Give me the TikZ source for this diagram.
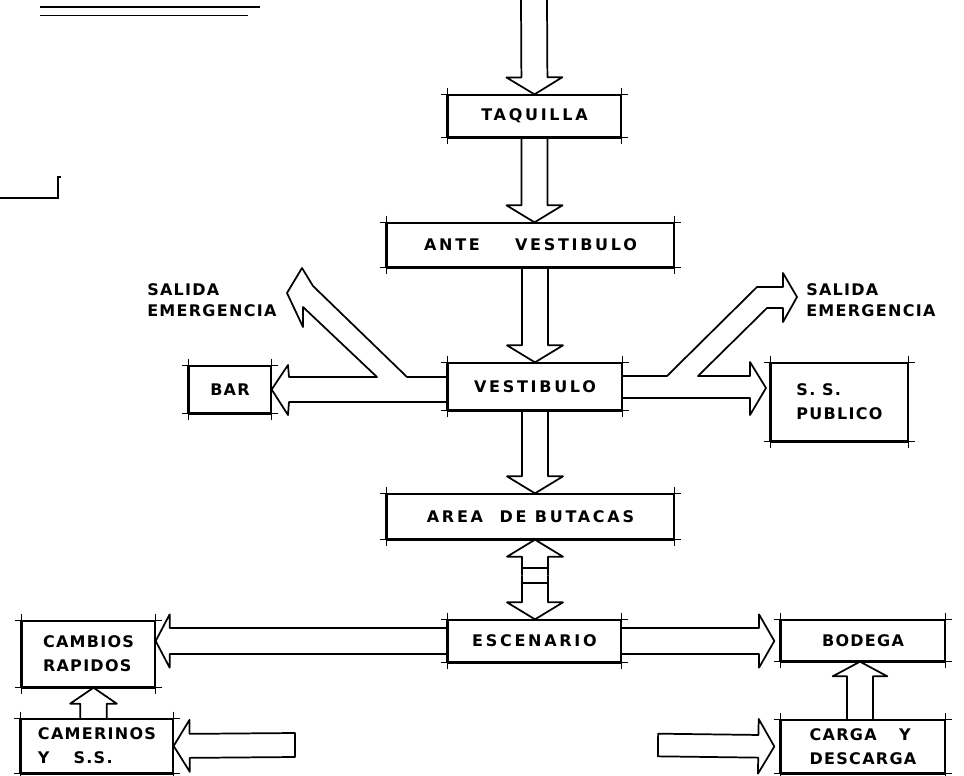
\documentclass[tikz,border=0pt]{standalone}
\usepackage{fontspec}
\usetikzlibrary{calc}
\newfontfamily\bigletters[LetterSpace=17]{DejaVu Sans Bold}
\newfontfamily\smallletters[LetterSpace=8]{DejaVu Sans Bold}
\def\arrowtail{}
\tikzset{
  aw/.store in=\aw, ah/.store in=\ah, al/.store in=\al,
  aw=9.75pt, ah=21pt, al=12.75pt,
  tailcut/.code={\def\arrowtail{-- cycle}},
  hollow/.style={draw,line width=1.3pt,line join=round,to path={
      let \p1=($(\tikztotarget)!\al!(\tikztostart)$) in
      ($(\tikztostart)!\aw!90:(\tikztotarget)$) -- ($(\p1)!\aw!90:(\tikztotarget)$)
      -- ($(\p1)!\ah!90:(\tikztotarget)$) -- (\tikztotarget)
      -- ($(\p1)!\ah!-90:(\tikztotarget)$) -- ($(\p1)!\aw!-90:(\tikztotarget)$)
      -- ($(\tikztostart)!\aw!-90:(\tikztotarget)$) \arrowtail}},
  outline/.style={draw,line width=1.3pt,line join=round},
  overshoot/.style={draw,line width=0.6pt,shorten <=-5pt,shorten >=-5pt},
  heavyside/.style={draw,line width=2pt},
  roombox/.style={draw,line width=1pt,inner sep=0pt,
    font=\bigletters\fontsize{12}{18}\selectfont,
    append after command={\pgfextra{\let\thisroom\tikzlastnode}
      (\thisroom.north west) edge[overshoot] (\thisroom.north east)
      (\thisroom.south west) edge[overshoot] (\thisroom.south east)
      (\thisroom.north west) edge[overshoot] (\thisroom.south west)
      (\thisroom.north east) edge[overshoot] (\thisroom.south east)
      (\thisroom.north west) edge[heavyside] (\thisroom.south west)
      (\thisroom.south west) edge[heavyside] (\thisroom.south east)}},
  sideroom/.style={roombox,align=left,
    font=\smallletters\fontsize{12}{18}\selectfont},
  note/.style={inner sep=0pt,align=left,
    font=\smallletters\fontsize{12}{15.75}\selectfont},
  scrap/.style={line width=1.5pt},
}

\begin{document}
\begin{tikzpicture}[x=0.75pt,y=-0.75pt]
  \useasboundingbox (0,0) rectangle (964,775);
  % rooms
  \node[roombox,minimum width=129.75pt,minimum height=31.5pt] (tq) at (534.5,116) {TAQUILLA};
  \node[roombox,minimum width=215.25pt,minimum height=33pt] (ante) at (530.5,245) {ANTE\hspace{2.2em}VESTIBULO};
  \node[roombox,minimum width=130.5pt,minimum height=35.25pt] (vest) at (535,386.5) {VESTIBULO};
  \node[sideroom,minimum width=61.5pt,minimum height=35.25pt] (bar) at (230,389.5) {BAR};
  \node[sideroom,minimum width=102.75pt,minimum height=58.5pt] (ssp) at (839.5,402) {S. S.\\PUBLICO};
  \node[roombox,minimum width=215.25pt,minimum height=33.75pt] (area) at (530.5,516.5) {AREA\ \ DE BUTACAS};
  \node[roombox,minimum width=129.75pt,minimum height=31.5pt] (esc) at (534.5,641) {ESCENARIO};
  \node[sideroom,minimum width=123pt,minimum height=30.75pt] (bod) at (863,640.5) {BODEGA};
  \node[sideroom,minimum width=123pt,minimum height=39.75pt] (carga) at (863,746.5) {CARGA\hspace{1.4em}Y\\DESCARGA};
  \node[sideroom,minimum width=99.75pt,minimum height=49.5pt] (cambios) at (88.5,654) {CAMBIOS\\RAPIDOS};
  \node[sideroom,minimum width=114pt,minimum height=40.5pt] (camer) at (97,746) {CAMERINOS\\Y\hspace{1.5em}S.S.};
  \node[note,anchor=west] (exitL) at (147,300) {SALIDA\\EMERGENCIA};
  \node[note,anchor=west] (exitR) at (806,300) {SALIDA\\EMERGENCIA};

  % main route
  \coordinate (entry) at (534,0);
  \draw[hollow] (entry) to (tq.north);
  \draw[hollow] (tq.south) to (tq.south |- ante.north);
  \draw[hollow] (vest.north |- ante.south) to (vest.north);
  \draw[hollow] (vest.south) to (vest.south |- area.north);
  \coordinate (stagemid) at (535,575.5);
  \draw[hollow] (stagemid) to (stagemid |- area.south);
  \draw[hollow] (stagemid) to (stagemid |- esc.north);
  \draw[outline] ([shift={(-13,-7.5)}]stagemid) -- ++(26,0);
  \draw[outline] ([shift={(-13,7.5)}]stagemid) -- ++(26,0);

  % vestibulo to bar / ss and the exits
  \draw[outline] (448,377) -- (407,377) -- (313,286) -- (302,268) -- (287,293)
    -- (303,327) -- (303,307) -- (377,377) -- (289,377) -- (288,365) -- (bar.east)
    -- (288,415) -- (289,402) -- (448,402);
  \draw[outline] (622,376) -- (667,376) -- (757,287) -- (783,287) -- (783,273)
    -- (797,297) -- (783,322) -- (783,308) -- (767,308) -- (698,376) -- (750,376)
    -- (750,362) -- (766,388) -- (750,415) -- (750,398) -- (622,398);

  % stage side
  \draw[hollow,ah=20pt,al=10.5pt] (esc.west) to (esc.west -| cambios.east);
  \draw[hollow,ah=20pt,al=11.5pt] (esc.east) to ($(esc.east -| bod.west)+(-6,0)$);
  \coordinate (dressin) at (295,745);
  \draw[hollow,tailcut,aw=9pt,ah=19.5pt,al=12pt] (dressin) to (camer.east);
  \coordinate (loadin) at (658,745);
  \draw[hollow,tailcut,aw=8.5pt,ah=20.5pt,al=12pt] (loadin) to ($(carga.west)+(-6,0)$);
  \coordinate (dressup) at ($(camer.north)+(-3.5,0)$);
  \draw[hollow,aw=10pt,ah=17.5pt,al=12pt] (dressup) to (dressup |- cambios.south);
  \coordinate (loadup) at ($(carga.north)+(-3,0)$);
  \draw[hollow,ah=20.5pt,al=11pt] (loadup) to (loadup |- bod.south);

  % loose marks
  \draw[scrap] (40,7) -- (260,7);
  \draw[line width=0.7pt] (40,15) -- (248,15);
  \draw[scrap] (0,198) -- (58,198) -- (58,177) -- (61,177);
\end{tikzpicture}
\end{document}
